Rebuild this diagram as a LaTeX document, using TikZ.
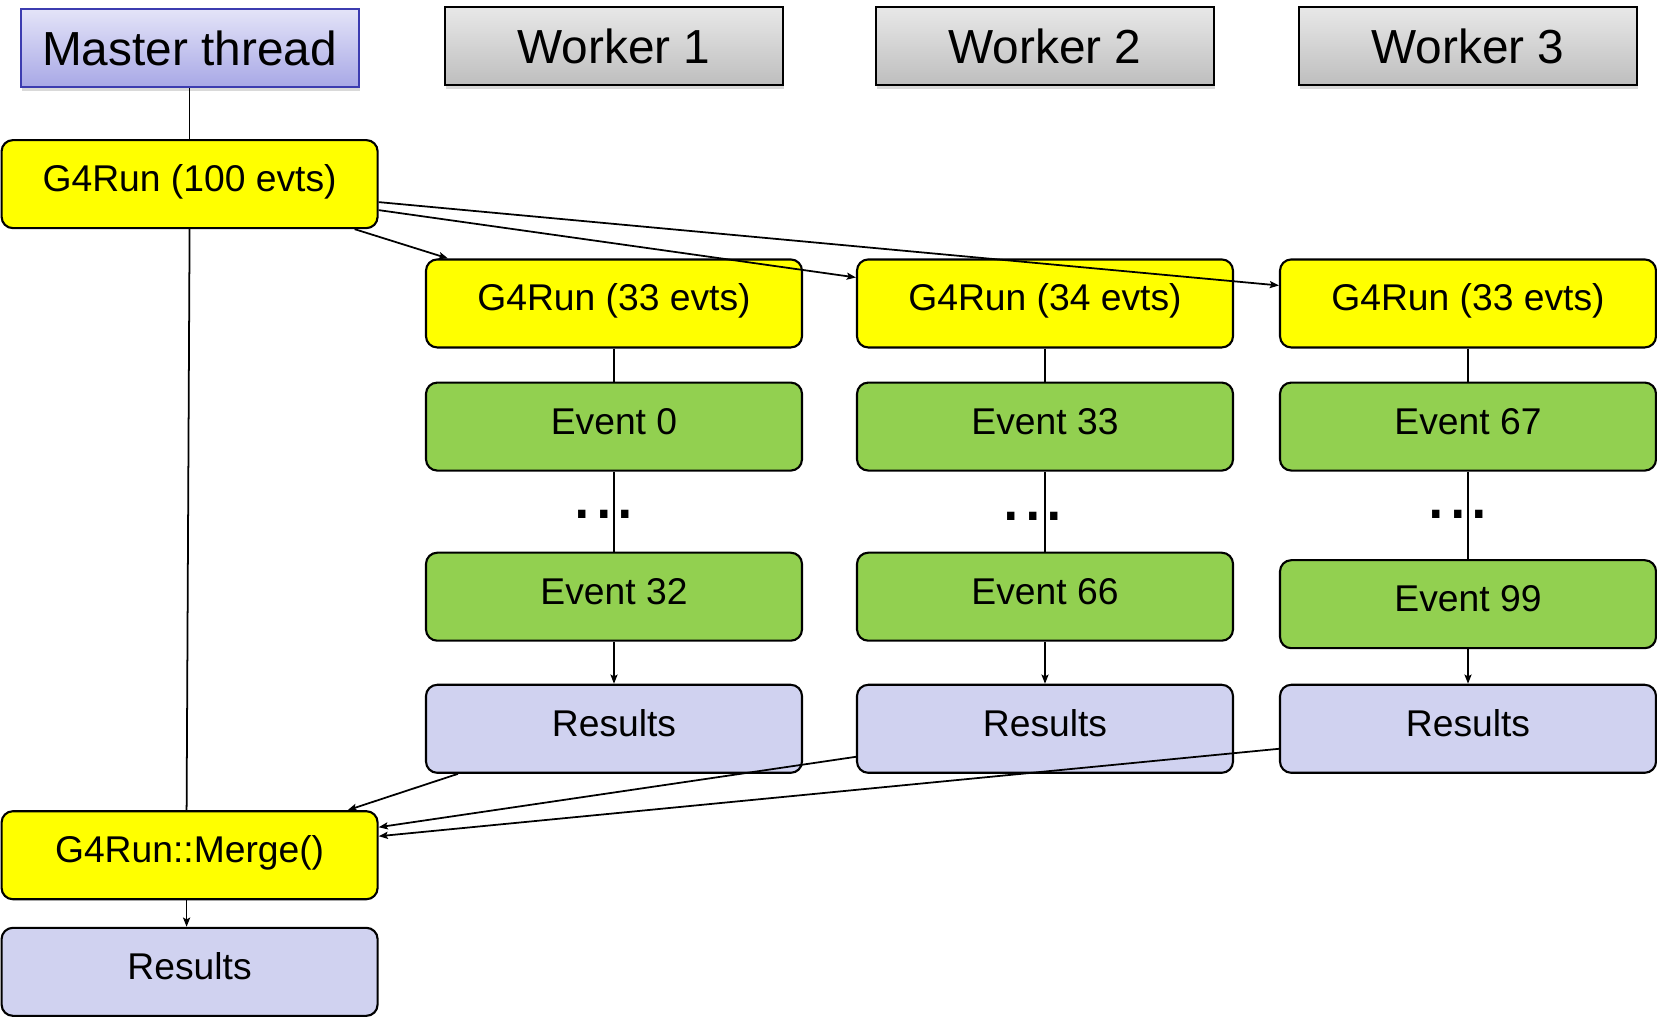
\documentclass[tikz,border=0pt]{standalone}
\usepackage{fontspec}
\setmainfont{Liberation Sans}
\usetikzlibrary{positioning,arrows.meta,shadows}
\definecolor{mtblue}{HTML}{3C3CB0}
\definecolor{mttop}{HTML}{E4E4F8}
\definecolor{mtbot}{HTML}{A8A8E6}
\definecolor{wktop}{HTML}{E8E8E8}
\definecolor{wkbot}{HTML}{BEBEBE}
\definecolor{runyel}{HTML}{FFFF00}
\definecolor{evgreen}{HTML}{92D050}
\definecolor{reslav}{HTML}{D0D2F0}

\begin{document}
\begin{tikzpicture}[
  font=\fontsize{10.6}{12}\selectfont,
  head/.style={minimum width=3.38cm, minimum height=0.78cm,
    font=\fontsize{13.6}{15}\selectfont,
    drop shadow={shadow xshift=0.4pt, shadow yshift=-1.2pt, opacity=0.3}},
  mhead/.style={head, draw=mtblue, line width=0.6pt, top color=mttop, bottom color=mtbot},
  whead/.style={head, draw=black, line width=0.8pt, top color=wktop, bottom color=wkbot},
  box/.style={draw=black, line width=0.6pt, rounded corners=3.2pt,
    minimum width=3.76cm, minimum height=0.88cm, text height=0.3cm, text depth=0.15cm},
  run/.style={box, fill=runyel},
  ev/.style={box, fill=evgreen},
  res/.style={box, fill=reslav},
  dots/.style={inner sep=0pt, font=\fontsize{22}{22}\selectfont},
  link/.style={line width=0.5pt},
  arr/.style={link, -{Stealth[length=2.6pt, width=2pt, inset=0.5pt]}},
  ]
  \useasboundingbox (0,0) rectangle (16.57,-10.16);

  % thread headers
  \node[mhead] (mhead) at (1.896,-0.48) {Master thread};
  \node[whead] (wh1) at (6.14,-0.46) {Worker 1};
  \node[whead] (wh2) at (10.45,-0.46) {Worker 2};
  \node[whead] (wh3) at (14.68,-0.46) {Worker 3};

  % master thread
  \node[run, below=0.51cm of mhead] (mrun) {G4Run (100 evts)};
  \node[run, below=5.81cm of mrun] (merge) {G4Run::Merge()};
  \node[res, below=0.265cm of merge] (mres) {Results};

  % worker 1
  \node[run, below=1.72cm of wh1] (wrun1) {G4Run (33 evts)};
  \node[ev, below=0.33cm of wrun1] (ev0) {Event 0};
  \node[ev, below=0.80cm of ev0] (ev32) {Event 32};
  \node[res, below=0.42cm of ev32] (res1) {Results};
  \node[dots, below=0.38cm of ev0, xshift=-0.10cm] (dots1) {...};

  % worker 2
  \node[run, below=1.72cm of wh2] (wrun2) {G4Run (34 evts)};
  \node[ev, below=0.33cm of wrun2] (ev33) {Event 33};
  \node[ev, below=0.80cm of ev33] (ev66) {Event 66};
  \node[res, below=0.42cm of ev66] (res2) {Results};
  \node[dots, below=0.40cm of ev33, xshift=-0.12cm] (dots2) {...};

  % worker 3
  \node[run, below=1.72cm of wh3] (wrun3) {G4Run (33 evts)};
  \node[ev, below=0.33cm of wrun3] (ev67) {Event 67};
  \node[ev, below=0.875cm of ev67] (ev99) {Event 99};
  \node[res, below=0.345cm of ev99] (res3) {Results};
  \node[dots, below=0.38cm of ev67, xshift=-0.10cm] (dots3) {...};

  % master timeline
  \draw[link] (mhead.south) -- (mrun.north);
  \draw[link] (mrun.south) -- ([xshift=-0.03cm]merge.north);
  \draw[arr] ([xshift=-0.03cm]merge.south) -- ([xshift=-0.03cm]mres.north);

  % worker timelines
  \draw[link] (wrun1.south) -- (ev0.north);
  \draw[link] (ev0.south) -- (ev32.north);
  \draw[arr] (ev32.south) -- (res1.north);
  \draw[link] (wrun2.south) -- (ev33.north);
  \draw[link] (ev33.south) -- (ev66.north);
  \draw[arr] (ev66.south) -- (res2.north);
  \draw[link] (wrun3.south) -- (ev67.north);
  \draw[link] (ev67.south) -- (ev99.north);
  \draw[arr] (ev99.south) -- (res3.north);

  % events handed out to the workers
  \draw[arr] ([yshift=-0.18cm]mrun.east) -- ([yshift=0.18cm]wrun3.west);
  \draw[arr] ([yshift=-0.26cm]mrun.east) -- ([yshift=0.26cm]wrun2.west);
  \draw[arr] ([xshift=-0.24cm]mrun.south east) -- ([xshift=0.23cm]wrun1.north west);

  % results collected for the merge
  \draw[arr] ([xshift=0.33cm]res1.south west) -- ([xshift=-0.31cm]merge.north east);
  \draw[arr] ([yshift=-0.28cm]res2.west) -- ([yshift=0.28cm]merge.east);
  \draw[arr] ([yshift=-0.20cm]res3.west) -- ([yshift=0.19cm]merge.east);
\end{tikzpicture}
\end{document}
